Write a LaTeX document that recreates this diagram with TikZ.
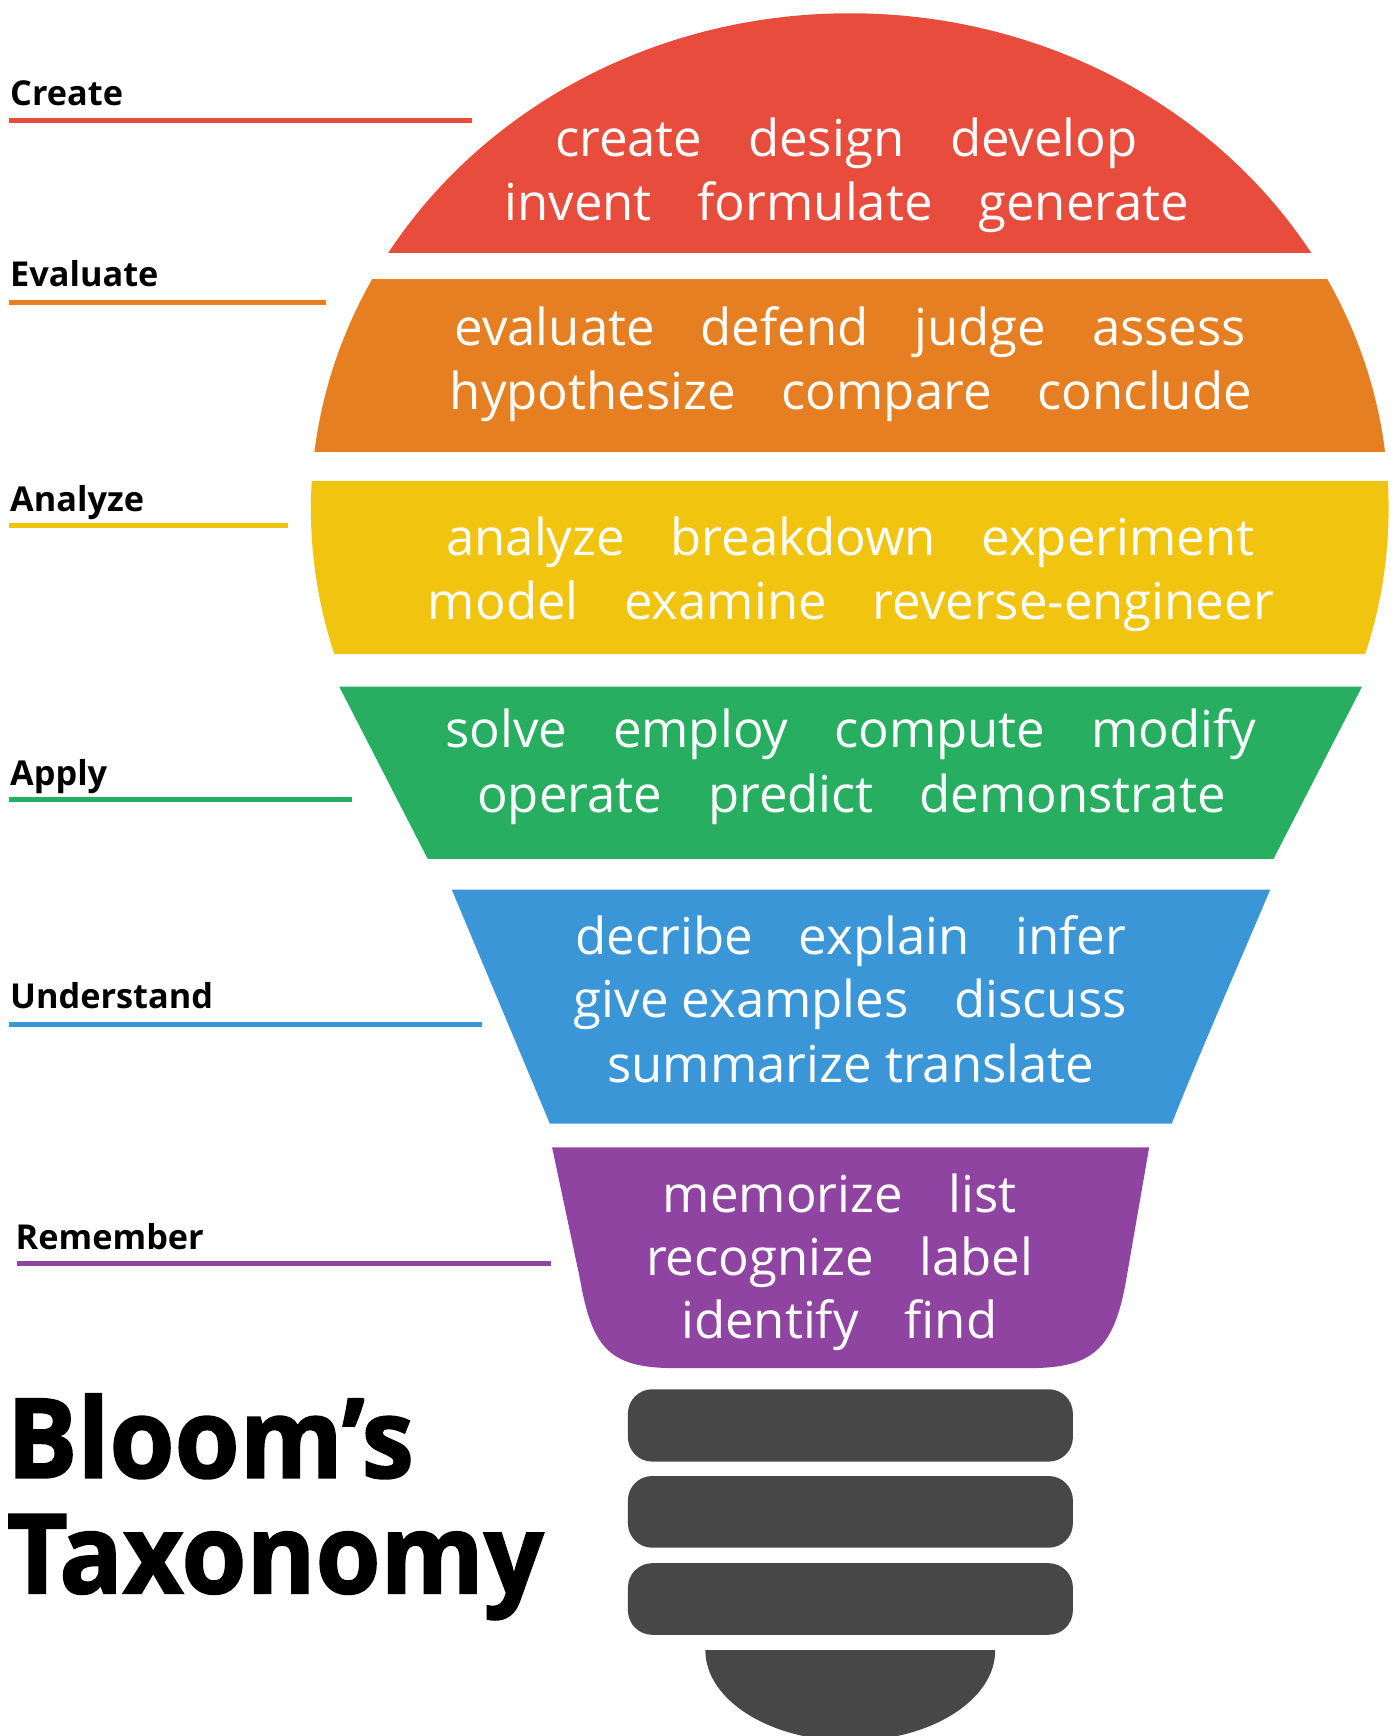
\documentclass[tikz,border=0pt]{standalone}
\usepackage{fontspec}
\setmainfont{Open Sans}
\newfontfamily\titlefont{Open Sans}[BoldFeatures={FakeBold=1.6,FakeStretch=0.95}]
\newcommand\gp{\hspace{0.9em}}
\definecolor{cRed}{HTML}{E74C3C}
\definecolor{cOrange}{HTML}{E67E22}
\definecolor{cYellow}{HTML}{F1C40F}
\definecolor{cGreen}{HTML}{27AE60}
\definecolor{cBlue}{HTML}{3A96D6}
\definecolor{cPurple}{HTML}{8E44A0}
\definecolor{cBase}{HTML}{474747}
\tikzset{
  words/.style={anchor=base, inner sep=0pt, text=white, font=\fontsize{46}{50}\selectfont},
  levellabel/.style={anchor=base west, inner sep=0pt, text=black, font=\fontsize{31}{34}\selectfont\bfseries},
  levelline/.style={line width=4.5pt},
  title/.style={anchor=base west, inner sep=0pt, text=black, font=\fontsize{100}{100}\selectfont\titlefont\bfseries},
  basebar/.style={fill=cBase, rounded corners=22pt},
}
\begin{document}
\begin{tikzpicture}[x=1pt,y=-1pt]
\clip (0,0) rectangle (1260,1569);
\fill[white] (0,0) rectangle (1260,1569);

% bulb bands
\begin{scope}
  \clip (0,0) rectangle (1260,228.6);
  \fill[cRed] (768,460) ellipse [x radius=487pt, y radius=448pt];
\end{scope}
\begin{scope}
  \clip (0,253) rectangle (1260,408);
  \fill[cOrange] (768,460) ellipse [x radius=487pt, y radius=448pt];
\end{scope}
\begin{scope}
  \clip (0,435) rectangle (1260,590.5);
  \fill[cYellow] (768,460) ellipse [x radius=487pt, y radius=448pt];
\end{scope}
\fill[cGreen] (306.6,620.6) -- (1231,620.6) -- (1151,776.3) -- (386.6,776.3) -- cycle;
\fill[cBlue] (408.3,804) -- (1148,804) .. controls (1118,875) and (1085,950) .. (1059,1015.6) -- (497,1015.6) -- cycle;
\fill[cPurple] (499,1037) -- (1038.6,1037) -- (1019,1150)
   .. controls (1008,1218) and (990,1236.5) .. (930,1236.5) -- (610,1236.5)
   .. controls (550,1236.5) and (535,1218) .. (524,1155) -- cycle;

% base
\fill[basebar] (567.5,1255.6) rectangle (969.7,1321);
\fill[basebar] (567.5,1334) rectangle (969.7,1398.8);
\fill[basebar] (567.5,1412.8) rectangle (969.7,1477.5);
\fill[cBase] (637.6,1491.4) -- (899.5,1491.4) arc[start angle=0, end angle=-180, x radius=131pt, y radius=82pt] -- cycle;

% band texts
\node[words] (c1) at (765,141) {create\gp design\gp develop};
\node[words] (c2) at (765.5,199) {invent\gp formulate\gp generate};
\node[words] (e1) at (768.5,312) {evaluate\gp defend\gp judge\gp assess};
\node[words] (e2) at (769,370) {hypothesize\gp compare\gp conclude};
\node[words] (a1) at (768.5,502) {analyze\gp breakdown\gp experiment};
\node[words] (a2) at (769,560) {model\gp examine\gp reverse-engineer};
\node[words] (p1) at (769,676) {solve\gp employ\gp compute\gp modify};
\node[words] (p2) at (769.5,734) {operate\gp predict\gp demonstrate};
\node[words] (u1) at (769,863) {decribe\gp explain\gp infer};
\node[words] (u2) at (768.5,920) {give examples\gp discuss};
\node[words] (u3) at (769,978) {summarize translate};
\node[words] (r1) at (759,1095.5) {memorize\gp list};
\node[words] (r2) at (759,1152.6) {recognize\gp label};
\node[words] (r3) at (758.5,1210) {identify\gp find};

% level labels and lines
\node[levellabel] (lCreate) at (9,95) {Create};
\draw[levelline, cRed] (8,108.6) -- (427,108.6);
\node[levellabel] (lEvaluate) at (9,259) {Evaluate};
\draw[levelline, cOrange] (8,273) -- (295,273);
\node[levellabel] (lAnalyze) at (9,462) {Analyze};
\draw[levelline, cYellow] (8,474.6) -- (260,474.6);
\node[levellabel] (lApply) at (9,709.6) {Apply};
\draw[levelline, cGreen] (8,723) -- (318,723);
\node[levellabel] (lUnderstand) at (9,911.6) {Understand};
\draw[levelline, cBlue] (8,925.7) -- (436,925.7);
\node[levellabel] (lRemember) at (14,1129) {Remember};
\draw[levelline, cPurple] (15,1142) -- (497.8,1142);

% title
\node[title] (t1) at (6,1335.6) {Bloom’s};
\node[title] (t2) at (6,1440) {Taxonomy};
\end{tikzpicture}
\end{document}
